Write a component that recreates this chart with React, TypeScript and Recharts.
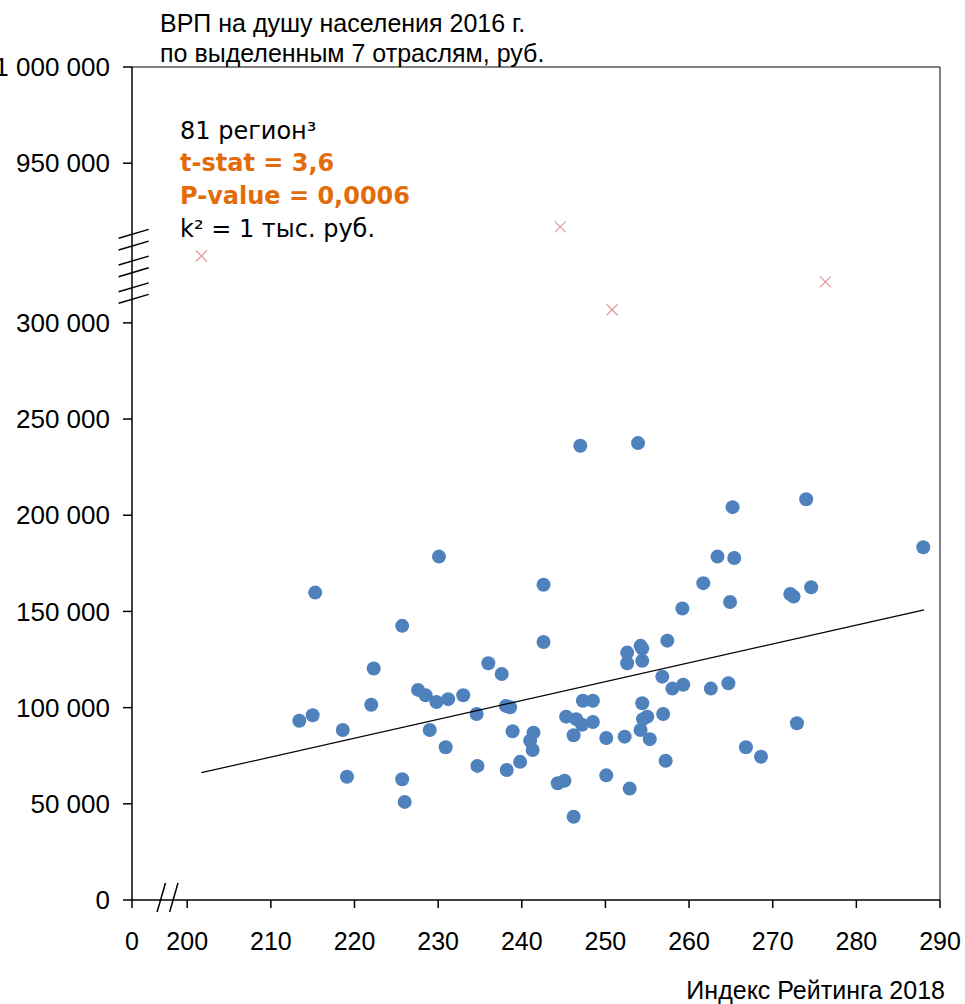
import React from 'react'
import { ReferenceLine, Scatter, ScatterChart, XAxis, YAxis } from 'recharts'

// Индекс Рейтинга 2018 (x) и ВРП на душу, тыс. руб. (y)
const regionIndex = [
  213.4, 215.0, 215.3, 218.6, 219.1, 222.0, 222.3, 225.7, 225.7, 226.0,
  227.6, 228.5, 229.0, 229.8, 230.1, 230.9, 231.2, 233.0, 234.6, 234.7,
  236.0, 237.6, 238.1, 238.6, 238.2, 238.9, 239.8, 241.0, 241.3, 241.4,
  242.6, 242.6, 244.3, 245.1, 245.3, 246.2, 246.2, 246.5, 247.0, 247.2,
  247.3, 248.5, 248.5, 250.1, 250.1, 252.3, 252.6, 252.6, 252.9, 253.9,
  254.2, 254.4, 254.4, 254.4, 255.0, 254.5, 254.2, 255.3, 256.8, 256.9,
  257.2, 257.4, 258.0, 259.3, 259.2, 261.7, 262.6, 263.4, 264.7, 264.9,
  265.2, 265.4, 266.8, 268.6, 272.1, 272.5, 272.9, 274.0, 274.6, 288.0
]
const regionGrp = [
  93.2, 96.0, 159.8, 88.4, 64.1, 101.5, 120.3, 142.5, 62.8, 51.0,
  109.2, 106.4, 88.4, 102.9, 178.5, 79.4, 104.4, 106.4, 96.7, 69.7,
  123.1, 117.5, 100.9, 100.2, 67.6, 87.7, 71.8, 82.8, 78.0, 87.0,
  163.9, 134.1, 60.7, 62.0, 95.3, 85.6, 43.3, 94.0, 236.1, 91.1,
  103.6, 103.6, 92.5, 84.2, 64.8, 84.9, 128.6, 123.1, 57.9, 237.5,
  132.1, 130.7, 124.4, 102.3, 95.3, 94.0, 88.4, 83.6, 116.1, 96.7,
  72.4, 134.8, 109.9, 111.9, 151.5, 164.7, 109.9, 178.5, 112.7, 154.9,
  204.2, 177.8, 79.4, 74.5, 159.1, 157.7, 91.9, 208.3, 162.6, 183.4
]

// выбросы лежат в разрыве оси, y — место на сжатой шкале
const outlierIndex = [201.7, 244.6, 250.8, 276.3]
const outlierGrp = [334.8, 349.9, 306.8, 321.3]

const trendIndex = [201.7, 288.1]
const trendGrp = [66.2, 150.8]

const X_ZERO = 193.4 // где на оси стоит подпись "0"
const Y_SHIFT = 567 // на сколько сдвинута верхняя часть оси (950 000 → 383)
const xTicks = [X_ZERO, 200, 210, 220, 230, 240, 250, 260, 270, 280, 290]
const yTicks = [0, 50, 100, 150, 200, 250, 300, 950 - Y_SHIFT, 1000 - Y_SHIFT]

const points = regionIndex.map((x, i) => ({ x, y: regionGrp[i] }))
const outliers = outlierIndex.map((x, i) => ({ x, y: outlierGrp[i] }))
const trend = trendIndex.map((x, i) => ({ x, y: trendGrp[i] }))

// засечки разрыва
const yBreakMarks = [346.3, 340.2, 332.4, 326.3, 318.5, 312.5]
const xBreakMarks = [196.9, 198.4]

const AXIS_FONT = 'Liberation Sans, Arial, sans-serif'
const NOTE_FONT = 'DejaVu Sans, Verdana, sans-serif'

const groupDigits = (v: number) => String(Math.round(v * 1000)).replace(/\B(?=(\d{3})+(?!\d))/g, ' ')

const Dot = (props: any) => <circle cx={props.cx} cy={props.cy} r={7} fill='#4F81BD' />

const Cross = (props: any) => {
  const { cx, cy } = props
  const s = 5.5
  return (
    <g stroke='#E39A9A' strokeWidth={1.3}>
      <line x1={cx - s} y1={cy - s} x2={cx + s} y2={cy + s} />
      <line x1={cx - s} y1={cy + s} x2={cx + s} y2={cy - s} />
    </g>
  )
}

const NoShape = () => <g />

function App() {
  const text = (top: number, size: number, extra: React.CSSProperties) => ({
    position: 'absolute' as const,
    top,
    whiteSpace: 'nowrap' as const,
    fontSize: size,
    lineHeight: size + 'px',
    ...extra
  })

  return (
    <div style={{ position: 'absolute', left: 0, top: 0, width: 965, height: 1004, background: '#fff' }}>
      <ScatterChart width={965} height={1004} margin={{ top: 67, right: 25, bottom: 44, left: 0 }}>
        <XAxis
          type='number'
          dataKey='x'
          domain={[X_ZERO, 290]}
          ticks={xTicks}
          interval={0}
          tickFormatter={(v: number) => (v < 195 ? '0' : String(v))}
          tick={{ fontSize: 25, fill: '#000', fontFamily: AXIS_FONT }}
          tickSize={8}
          tickMargin={24}
          height={60}
          axisLine={{ stroke: '#000', strokeWidth: 1.5 }}
          tickLine={{ stroke: '#000', strokeWidth: 1.5 }}
        />
        <YAxis
          type='number'
          dataKey='y'
          domain={[0, 1000 - Y_SHIFT]}
          ticks={yTicks}
          interval={0}
          tickFormatter={(v: number) => groupDigits(v > 300 ? v + Y_SHIFT : v)}
          tick={{ fontSize: 26, fill: '#000', fontFamily: AXIS_FONT }}
          tickSize={9}
          tickMargin={13}
          width={132}
          axisLine={{ stroke: '#000', strokeWidth: 1.5 }}
          tickLine={{ stroke: '#000', strokeWidth: 1.5 }}
        />
        <ReferenceLine y={1000 - Y_SHIFT} stroke='#595959' strokeWidth={1.5} />
        <ReferenceLine x={290} stroke='#595959' strokeWidth={1.5} />
        {yBreakMarks.map((y) => (
          <ReferenceLine
            key={'yb' + y}
            segment={[{ x: 191.8, y: y - 2.3 }, { x: 195.4, y: y + 2.3 }]}
            stroke='#000'
            strokeWidth={1.5}
            ifOverflow='visible'
          />
        ))}
        {xBreakMarks.map((x) => (
          <ReferenceLine
            key={'xb' + x}
            segment={[{ x: x - 0.5, y: -6.2 }, { x: x + 0.5, y: 8.8 }]}
            stroke='#000'
            strokeWidth={1.5}
            ifOverflow='visible'
          />
        ))}
        <Scatter data={points} shape={Dot} isAnimationActive={false} />
        <Scatter data={outliers} shape={Cross} isAnimationActive={false} />
        <Scatter
          data={trend}
          shape={NoShape}
          line={{ stroke: '#000', strokeWidth: 1.2 }}
          isAnimationActive={false}
        />
      </ScatterChart>

      <div style={text(11, 25, { left: 160, fontFamily: AXIS_FONT })}>ВРП на душу населения 2016 г.</div>
      <div style={text(41, 25, { left: 160, fontFamily: AXIS_FONT })}>по выделенным 7 отраслям, руб.</div>

      <div style={text(119, 24, { left: 180, fontFamily: NOTE_FONT })}>81 регион³</div>
      <div style={text(151, 24, { left: 180, fontFamily: NOTE_FONT, fontWeight: 'bold', color: '#E36C0A' })}>
        t-stat = 3,6
      </div>
      <div style={text(184, 24, { left: 180, fontFamily: NOTE_FONT, fontWeight: 'bold', color: '#E36C0A' })}>
        P-value = 0,0006
      </div>
      <div style={text(217, 24, { left: 180, fontFamily: NOTE_FONT })}>k² = 1 тыс. руб.</div>

      <div style={text(978, 25, { right: 20, fontFamily: AXIS_FONT })}>Индекс Рейтинга 2018</div>
    </div>
  )
}

export default App
